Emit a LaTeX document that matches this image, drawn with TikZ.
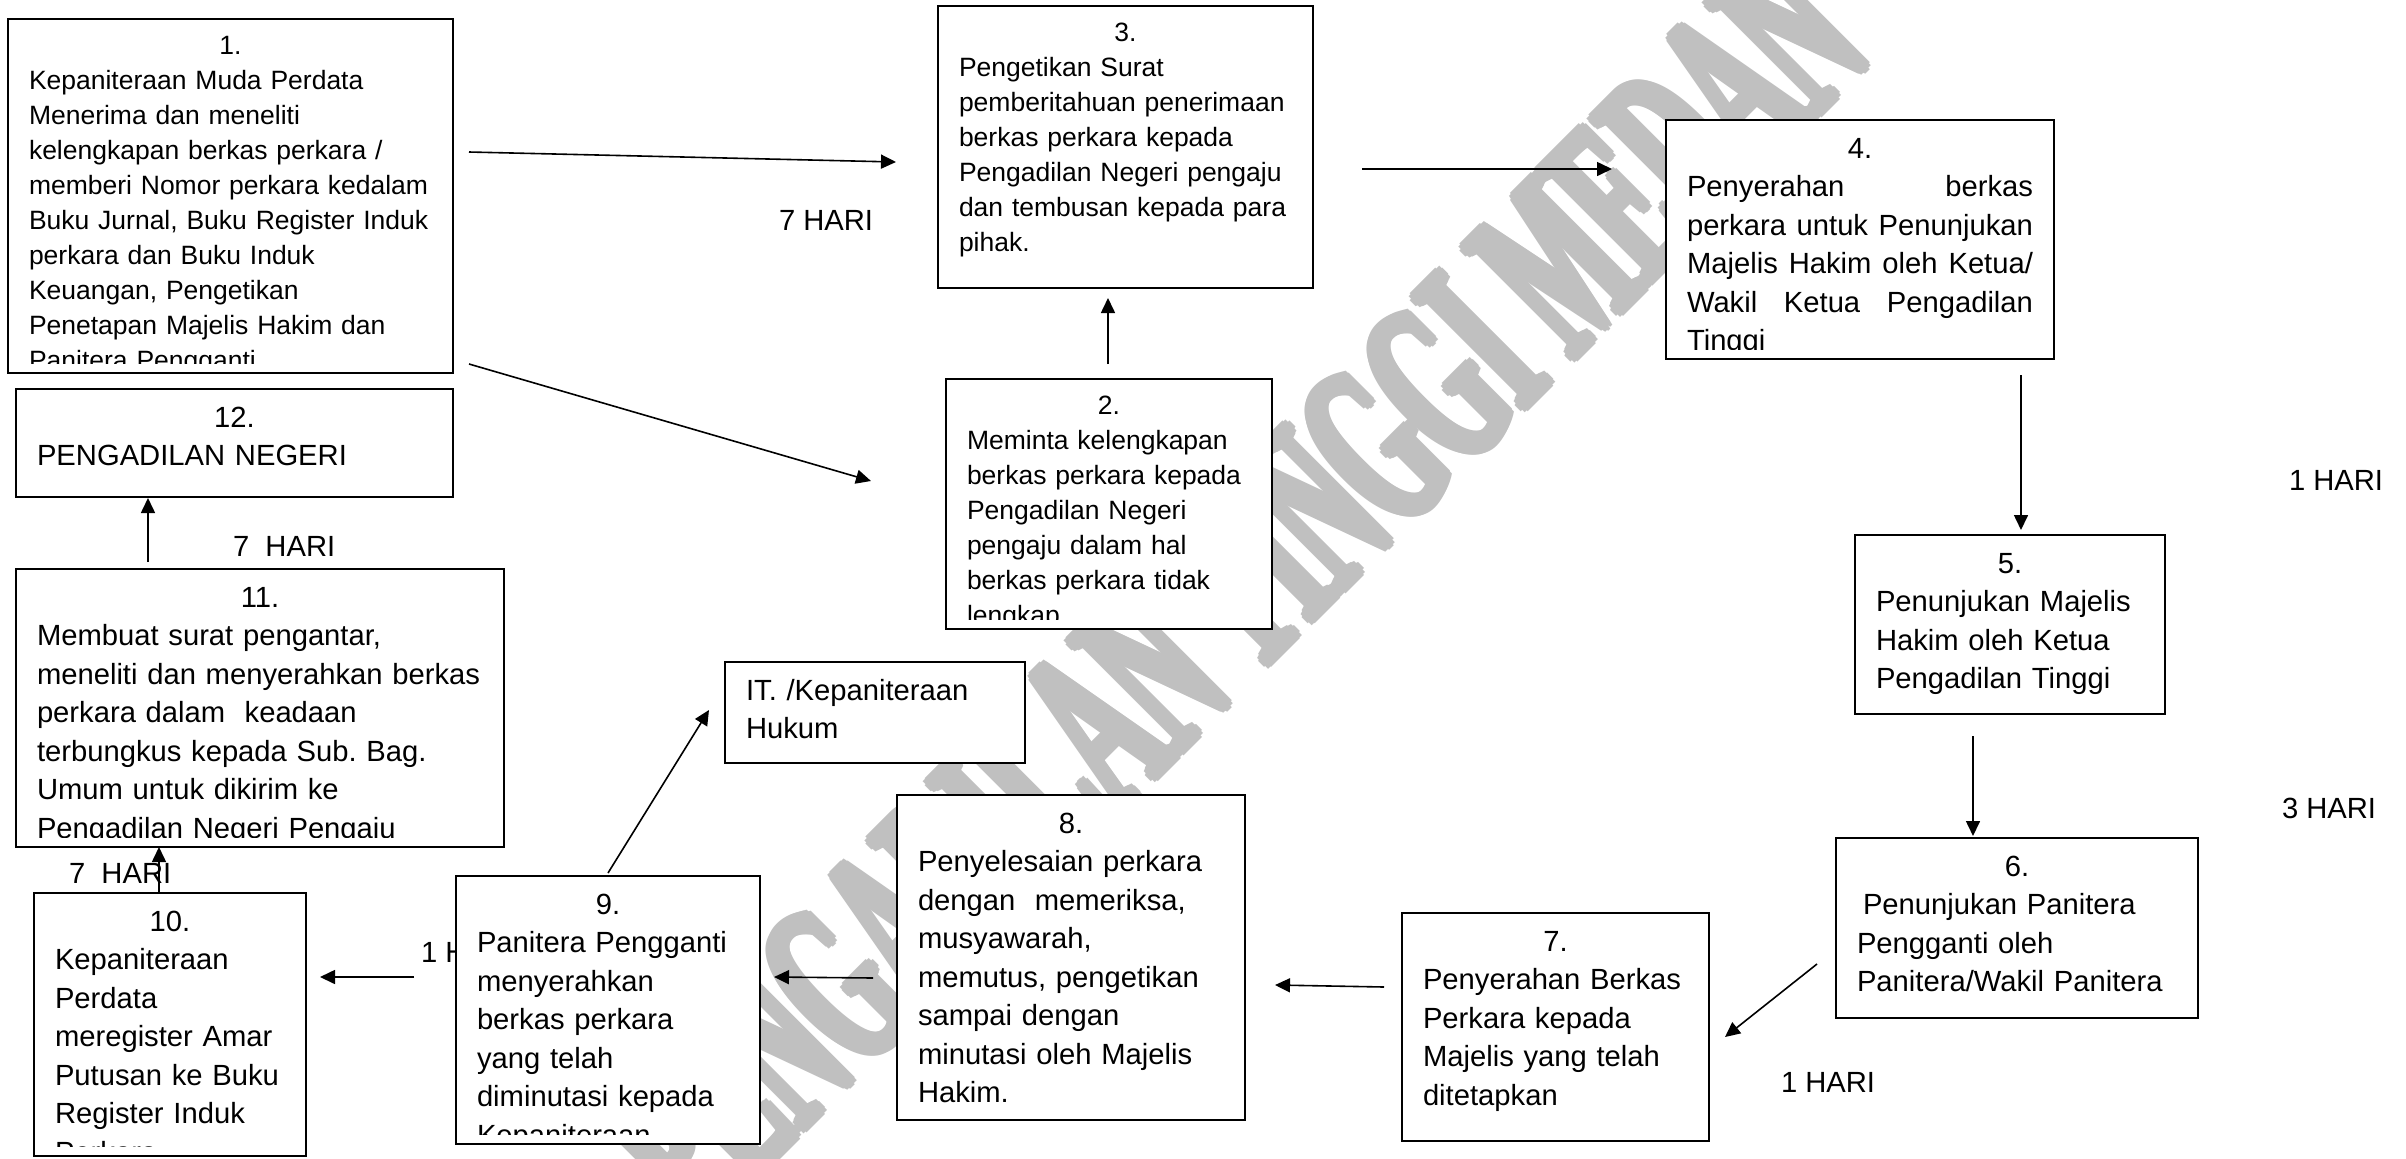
\documentclass[tikz,border=0pt]{standalone}
\usepackage{fontspec}
\usepackage{graphicx}
\setmainfont{Liberation Sans}
\newfontfamily\wmfont{Liberation Serif}
\usetikzlibrary{arrows.meta,calc}
\definecolor{wmgray}{RGB}{192,192,192}
\hyphenpenalty=10000
\exhyphenpenalty=10000
\frenchspacing
\newcommand\smallfs{\fontsize{13.25pt}{17.5pt}\selectfont}
\newcommand\bigfs{\fontsize{14.6pt}{19.25pt}\selectfont}
\newcommand\jline[2]{\leavevmode\hbox to #1{\spaceskip=0.28em plus 1fil\relax #2}\par}
\newcommand\wmtext{\scalebox{0.47}[1]{\fontsize{120pt}{120pt}\selectfont\wmfont\bfseries PENGADILAN TINGGI MEDAN}}
\tikzset{
  box/.style={draw, line width=1pt, fill=white, inner sep=0pt, outer sep=0pt, anchor=north west},
  txt/.style={inner sep=0pt, outer sep=0pt, anchor=north west},
  lbl/.style={inner sep=0pt, outer sep=0pt, anchor=base west, font=\bigfs},
  arr/.style={line width=0.8pt, -{Triangle[length=7.5pt,width=7pt]}},
  wmark/.style={rotate=45, text=wmgray, inner sep=0pt},
}
% #1 name, #2 x, #3 y, #4 width, #5 height (px), #6 font, #7 text
\newcommand\flowbox[7]{%
  \pgfmathsetmacro\fbw{#4*0.5}%
  \pgfmathsetmacro\fbh{#5*0.5}%
  \pgfmathsetmacro\fbt{(#4-42)*0.5}%
  \node[box, minimum width=\fbw pt, minimum height=\fbh pt] (#1) at (#2,#3) {};
  \begin{scope}
    \clip (#2,#3) rectangle ++(#4,#5-10);
    \node[txt, text width=\fbt pt, font=#6] (#1t) at ([xshift=10.5pt,yshift=-5.6pt]#1.north west) {#7};
  \end{scope}}
\begin{document}
\begin{tikzpicture}[x=0.5pt,y=-0.5pt]
\useasboundingbox (0,0) rectangle (2406,1158);
\fill[white] (0,0) rectangle (2406,1158);

% watermark (drawn several times with small offsets to make the strokes heavier)
\foreach \dx/\dy [count=\k] in {0/0,5/0,-5/0,0/5,0/-5,3.5/3.5,-3.5/-3.5,3.5/-3.5,-3.5/3.5,2.5/0,-2.5/0,0/2.5,0/-2.5}
  \node[wmark] (wm\k) at (1232+\dx,590+\dy) {\wmtext};

% label hidden behind box 9
\node[lbl] (l4) at (421,962) {1 HARI};

% boxes
\flowbox{b1}{8}{19}{445}{354}{\smallfs}{{\centering\strut 1.\par}\raggedright
Kepaniteraan Muda Perdata\\
Menerima dan meneliti\\
kelengkapan berkas perkara /\\
memberi Nomor perkara kedalam\\
Buku Jurnal, Buku Register Induk\\
perkara dan Buku Induk\\
Keuangan, Pengetikan\\
Penetapan Majelis Hakim dan\\
Panitera Pengganti}

\flowbox{b3}{938}{6}{375}{282}{\smallfs}{{\centering\strut 3.\par}\raggedright
Pengetikan Surat\\
pemberitahuan penerimaan\\
berkas perkara kepada\\
Pengadilan Negeri pengaju\\
dan tembusan kepada para\\
pihak.}

\flowbox{b2}{946}{379}{326}{250}{\smallfs}{{\centering\strut 2.\par}\raggedright
Meminta kelengkapan\\
berkas perkara kepada\\
Pengadilan Negeri\\
pengaju dalam hal\\
berkas perkara tidak\\
lengkap}

\flowbox{b4}{1666}{120}{388}{239}{\bigfs}{{\centering\strut 4.\par}\raggedright
\jline{173pt}{Penyerahan berkas}
\jline{173pt}{perkara untuk Penunjukan}
\jline{173pt}{Majelis Hakim oleh Ketua/}
\jline{173pt}{Wakil Ketua Pengadilan}
Tinggi}

\flowbox{b5}{1855}{535}{310}{179}{\bigfs}{{\centering\strut 5.\par}\raggedright
Penunjukan Majelis\\
Hakim oleh Ketua\\
Pengadilan Tinggi}

\flowbox{b6}{1836}{838}{362}{180}{\bigfs}{{\centering\strut 6.\par}\raggedright
\hspace*{3pt}Penunjukan Panitera\\
Pengganti oleh\\
Panitera/Wakil Panitera}

\flowbox{b7}{1402}{913}{307}{228}{\bigfs}{{\centering\strut 7.\par}\raggedright
Penyerahan Berkas\\
Perkara kepada\\
Majelis yang telah\\
ditetapkan}

\flowbox{b8}{897}{795}{348}{325}{\bigfs}{{\centering\strut 8.\par}\raggedright
Penyelesaian perkara\\
dengan~~memeriksa,\\
musyawarah,\\
memutus, pengetikan\\
sampai dengan\\
minutasi oleh Majelis\\
Hakim.}

\flowbox{bit}{725}{662}{300}{101}{\bigfs}{\raggedright\strut
IT. /Kepaniteraan\\
Hukum}

\flowbox{b9}{456}{876}{304}{268}{\bigfs}{{\centering\strut 9.\par}\raggedright
Panitera Pengganti\\
menyerahkan\\
berkas perkara\\
yang telah\\
diminutasi kepada\\
Kepaniteraan}

\flowbox{b10}{34}{893}{272}{263}{\bigfs}{{\centering\strut 10.\par}\raggedright
Kepaniteraan\\
Perdata\\
meregister Amar\\
Putusan ke Buku\\
Register Induk\\
Perkara}

\flowbox{b11}{16}{569}{488}{278}{\bigfs}{{\centering\strut 11.\par}\raggedright
Membuat surat pengantar,\\
meneliti dan menyerahkan berkas\\
perkara dalam~~keadaan\\
terbungkus kepada Sub. Bag.\\
Umum untuk dikirim ke\\
Pengadilan Negeri Pengaju}

\flowbox{b12}{16}{389}{437}{108}{\bigfs}{{\centering\strut 12.\par}\raggedright
PENGADILAN NEGERI}

% labels
\node[lbl] (l1) at (779,230) {7 HARI};
\node[lbl] (l2) at (233,556) {7~~HARI};
\node[lbl] (l3) at (69,883) {7~~HARI};
\node[lbl] (l5) at (2289,490) {1 HARI};
\node[lbl] (l6) at (2282,818) {3 HARI};
\node[lbl] (l7) at (1781,1092) {1 HARI};

% connector end points
\coordinate (a1s) at (469,152);   \coordinate (a1e) at (896,162);
\coordinate (a2s) at (469,364);   \coordinate (a2e) at (871,481);
\coordinate (a3s) at (1108,364);  \coordinate (a3e) at (1108,298);
\coordinate (a4s) at (1362,169);  \coordinate (a4e) at (1612,169);
\coordinate (a5s) at (2021,375);  \coordinate (a5e) at (2021,530);
\coordinate (a6s) at (1973,736);  \coordinate (a6e) at (1973,836);
\coordinate (a7s) at (1817,964);  \coordinate (a7e) at (1725,1037);
\coordinate (a8s) at (1384,987);  \coordinate (a8e) at (1275,985);
\coordinate (a9s) at (873,978);   \coordinate (a9e) at (774,977);
\coordinate (a10s) at (608,873);  \coordinate (a10e) at (709,710);
\coordinate (a11s) at (414,977);  \coordinate (a11e) at (320,977);
\coordinate (a12s) at (159,893);  \coordinate (a12e) at (159,847);
\coordinate (a13s) at (148,562);  \coordinate (a13e) at (148,498);

\draw[arr] (a1s) -- (a1e);
\draw[arr] (a2s) -- (a2e);
\draw[arr] (a3s) -- (a3e);
\draw[arr] (a4s) -- (a4e);
\draw[arr] (a5s) -- (a5e);
\draw[arr] (a6s) -- (a6e);
\draw[arr] (a7s) -- (a7e);
\draw[arr] (a8s) -- (a8e);
\draw[arr] (a9s) -- (a9e);
\draw[arr] (a10s) -- (a10e);
\draw[arr] (a11s) -- (a11e);
\draw[arr] (a12s) -- (a12e);
\draw[arr] (a13s) -- (a13e);
\end{tikzpicture}
\end{document}
